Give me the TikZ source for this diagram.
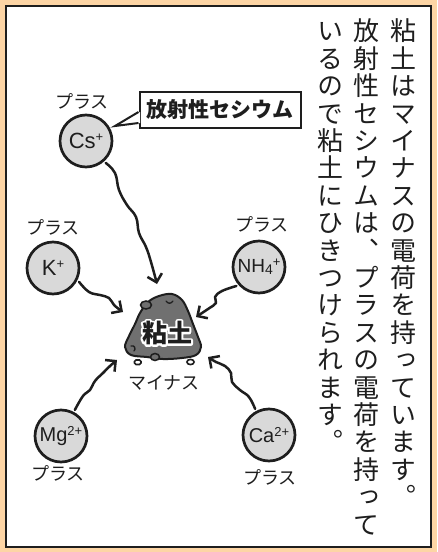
\documentclass[tikz,border=0pt]{standalone}
\usepackage{fontspec}
\usetikzlibrary{arrows.meta}
\newfontfamily\jpfont{Noto Sans CJK JP}
\newfontfamily\jpvert[RawFeature=+vert]{Noto Sans CJK JP}
\newfontfamily\latfont{Liberation Sans}
\definecolor{peach}{RGB}{253,213,165}
\definecolor{ionfill}{RGB}{217,217,217}
\definecolor{clayfill}{RGB}{112,112,112}
\definecolor{ink}{RGB}{30,30,30}

\tikzset{
  ion/.style={circle, draw=ink, line width=2.7pt, fill=ionfill, minimum size=52pt,
    inner sep=0pt, outer sep=3.5pt, text=ink, font=\latfont\fontsize{22}{22}\selectfont},
  pluslabel/.style={font=\jpfont\fontsize{18}{18}\selectfont, inner sep=0pt, text=ink},
  pull/.style={draw=ink, line width=2.5pt, line cap=round, line join=round,
    -{Straight Barb[length=7.5pt, width=15pt]}},
  vtext/.style={font=\jpvert\fontsize{26}{26}\selectfont, inner sep=0pt,
    text height=0.88em, text depth=0.12em, text=ink},
  clayword/.style={font=\jpfont\bfseries\fontsize{25}{25}\selectfont, inner sep=0pt},
}

% one column of vertical text: name prefix, x, y of first cell, characters
\newcommand\tatecol[4]{%
  \foreach \ch [count=\k from 0] in {#4} {%
    \node[vtext] (#1\k) at (#2,{#3+\k*27.4}) {\ch};}}
\newcommand\sups[1]{\raisebox{0.3em}{\fontsize{13}{13}\selectfont #1}}
\newcommand\subs[1]{\raisebox{-0.12em}{\fontsize{14}{14}\selectfont #1}}
% text drawn as a white stroke only, giving a halo behind the dark letters
\newcommand\halotext[1]{\special{pdf:code 1 Tr 4 w 1 j}#1\special{pdf:code 0 Tr}}

\begin{document}
\begin{tikzpicture}[x=1pt, y=-1pt]
  \useasboundingbox (0,0) rectangle (437,552);
  % frame
  \fill[peach] (0,0) rectangle (437,552);
  \draw[draw=ink, line width=2.5pt, fill=white] (6.2,6.2) rectangle (431,547);

  % vertical explanation, columns read right to left
  \tatecol{ca}{403}{37}{粘,土,は,マ,イ,ナ,ス,の,電,荷,を,持,っ,て,い,ま,す,。}
  \tatecol{cb}{366}{37}{放,射,性,セ,シ,ウ,ム,は,、,プ,ラ,ス,の,電,荷,を,持,っ,て}
  \tatecol{cc}{330}{37}{い,る,の,で,粘,土,に,ひ,き,つ,け,ら,れ,ま,す,。}

  % ions
  \node[ion] (cs) at (86,141) {Cs\sups{+}};
  \node[ion] (k)  at (53,268) {K\sups{+}};
  \node[ion, font=\latfont\fontsize{19}{19}\selectfont] (nh) at (259,267) {NH\subs{4}\sups{+}};
  \node[ion, font=\latfont\fontsize{20}{20}\selectfont] (mg) at (61,436) {Mg\sups{2+}};
  \node[ion, font=\latfont\fontsize{20}{20}\selectfont] (ca) at (269,435) {Ca\sups{2+}};

  \node[pluslabel] (pcs) at (82,101) {プラス};
  \node[pluslabel] (pk)  at (53,227) {プラス};
  \node[pluslabel] (pnh) at (262,224) {プラス};
  \node[pluslabel] (pmg) at (58,473) {プラス};
  \node[pluslabel] (pca) at (270,477) {プラス};

  % callout naming the cesium ion
  \node[draw=ink, line width=2pt, fill=white, inner sep=0pt, minimum width=161pt,
        minimum height=36pt, font=\jpfont\bfseries\fontsize{21}{21}\selectfont, text=ink]
        (callout) at (220,110) {放射性セシウム};
  \coordinate (tailtip) at (115,126);
  \fill[white] ([xshift=1.5pt,yshift=-2pt]callout.west) -- (tailtip)
       -- ([xshift=1.5pt,yshift=-13pt]callout.west) -- cycle;
  \draw[draw=ink, line width=2pt, line join=miter] ([yshift=-2pt]callout.west)
       -- (tailtip) -- ([yshift=-13pt]callout.west);

  % clay lump
  \draw[draw=ink, line width=2pt, fill=clayfill]
    plot[smooth cycle, tension=0.6] coordinates {(140,313) (148,302) (159,296) (172,294)
      (182,300) (188,311) (193,324) (198,337) (201,347) (196,355) (182,358) (163,359)
      (147,357) (131,355) (125,347) (129,336) (135,324)};
  \draw[draw=ink, line width=1.5pt, fill=clayfill] (146,305) ellipse (5.5pt and 4pt);
  \draw[draw=ink, line width=1.5pt, fill=clayfill] (155,357) ellipse (4.5pt and 3.5pt);
  \draw[draw=ink, line width=1.6pt, fill=white, rounded corners=1.5pt] (134.5,360) rectangle (141,364.5);
  \draw[draw=ink, line width=1.6pt, fill=white] (190.5,362) ellipse (3.6pt and 2.6pt);
  \draw[draw=ink, line width=1.3pt, line cap=round] (166,301) .. controls (168,304) and (171,304) .. (173,301);
  \draw[draw=ink, line width=1.3pt, line cap=round] (189,328) .. controls (188,331) .. (191,333);
  \draw[draw=ink, line width=1.3pt, line cap=round] (131,346) .. controls (135,345) and (136,349) .. (134,351);
  \coordinate (clay) at (167,333);
  \node[clayword, text=white] (clayhalo) at (clay) {\halotext{粘土}};
  \node[clayword, text=ink] (claytext) at (clay) {粘土};
  \node[pluslabel] (minus) at (164,383) {マイナス};

  % wavy pulls towards the clay
  \coordinate (tcs) at (157,284);
  \coordinate (tk)  at (123,312);
  \coordinate (tnh) at (196,317);
  \coordinate (tmg) at (117,360);
  \coordinate (tca) at (208,357);
  \draw[pull] plot[smooth, tension=0.7] coordinates {(cs.-48) (115,173) (119,190) (127,205)
      (136,217) (139,233) (146,247) (151,262) (tcs)};
  \draw[pull] plot[smooth, tension=0.7] coordinates {(k.-28) (89,292) (100,295) (109,298)
      (114,305) (tk)};
  \draw[pull] plot[smooth, tension=0.7] coordinates {(nh.-140) (222,291) (215,297) (216,303)
      (208,309) (tnh)};
  \draw[pull] plot[smooth, tension=0.7] coordinates {(mg.62) (83,396) (90,390) (95,381)
      (103,373) (110,366) (tmg)};
  \draw[pull] plot[smooth, tension=0.7] coordinates {(ca.118) (249,397) (240,390) (232,382)
      (231,373) (225,366) (216,362) (tca)};
\end{tikzpicture}
\end{document}
